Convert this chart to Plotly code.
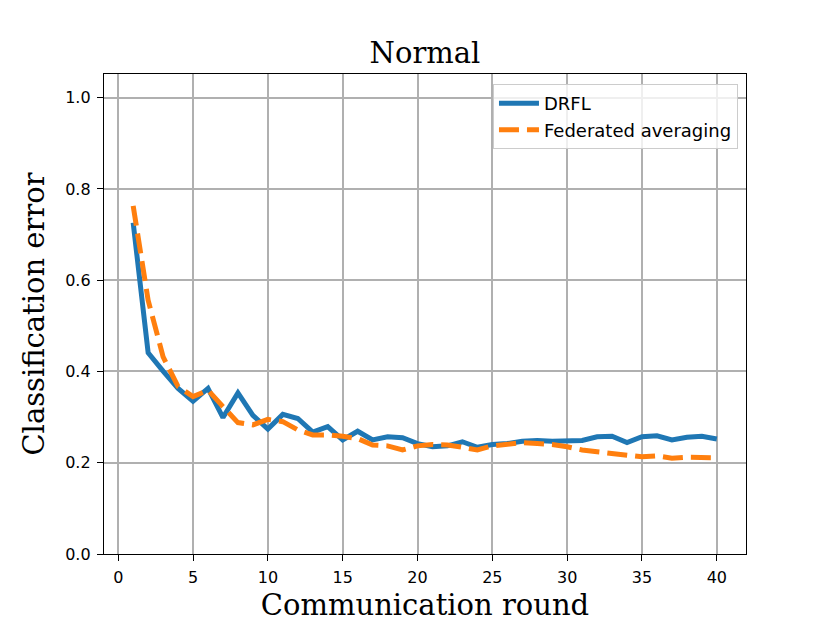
import plotly.graph_objects as go

rounds = list(range(1, 41))

drfl = [0.726, 0.441, 0.401, 0.363, 0.335, 0.363, 0.299, 0.353, 0.304, 0.274,
        0.306, 0.297, 0.267, 0.279, 0.250, 0.269, 0.250, 0.257, 0.255, 0.242,
        0.235, 0.237, 0.246, 0.234, 0.240, 0.242, 0.247, 0.249, 0.247, 0.249,
        0.249, 0.257, 0.258, 0.244, 0.257, 0.259, 0.250, 0.256, 0.258, 0.252]

fedavg = [0.763, 0.556, 0.432, 0.367, 0.345, 0.359, 0.323, 0.288, 0.283, 0.295,
          0.290, 0.272, 0.261, 0.261, 0.258, 0.253, 0.239, 0.237, 0.228, 0.237,
          0.240, 0.239, 0.234, 0.228, 0.237, 0.241, 0.244, 0.242, 0.240, 0.235,
          0.228, 0.224, 0.220, 0.217, 0.213, 0.215, 0.210, 0.212, 0.211, 0.211]

x_ticks = [0, 5, 10, 15, 20, 25, 30, 35, 40]
y_ticks = [0.0, 0.2, 0.4, 0.6, 0.8, 1.0]

serif = "DejaVu Serif"
sans = "DejaVu Sans"

fig = go.Figure()
fig.add_trace(go.Scatter(x=rounds, y=drfl, mode="lines", name="DRFL",
                         line=dict(color="#1f77b4", width=5)))
fig.add_trace(go.Scatter(x=rounds, y=fedavg, mode="lines", name="Federated averaging",
                         line=dict(color="#ff7f0e", width=5, dash="20px,8px")))

axis_common = dict(showline=True, linecolor="black", linewidth=1.3, mirror=True,
                   ticks="outside", ticklen=6, tickwidth=1.2, tickcolor="black",
                   showgrid=True, gridcolor="#b0b0b0", gridwidth=1.5,
                   zeroline=False, ticklabelstandoff=3,
                   tickfont=dict(family=sans, size=16, color="black"))

fig.update_xaxes(range=[-0.95, 41.95], tickvals=x_ticks,
                 ticktext=[str(t) for t in x_ticks],
                 title=dict(text="Communication round", standoff=8,
                            font=dict(family=serif, size=29, color="black")),
                 **axis_common)
fig.update_yaxes(range=[0, 1.052], tickvals=y_ticks,
                 ticktext=[f"{t:.1f}" for t in y_ticks],
                 title=dict(text="Classification error", standoff=12,
                            font=dict(family=serif, size=29, color="black")),
                 **axis_common)

# the page puts the plot 8px in from the top-left corner, margins make up for it
fig.update_layout(
    width=830, height=623,
    margin=dict(l=96, r=92, t=66, b=77, autoexpand=False),
    paper_bgcolor="white", plot_bgcolor="white",
    title=dict(text="Normal", x=0.5, xref="paper", xanchor="center",
               y=0.912, yanchor="bottom",
               font=dict(family=serif, size=29, color="black")),
    legend=dict(x=0.9875, y=0.979, xanchor="right", yanchor="top",
                bgcolor="rgba(255,255,255,0.8)", bordercolor="#cccccc", borderwidth=1,
                font=dict(family=sans, size=18, color="black"),
                itemwidth=40),
    showlegend=True,
)

fig.write_html("out.html")
